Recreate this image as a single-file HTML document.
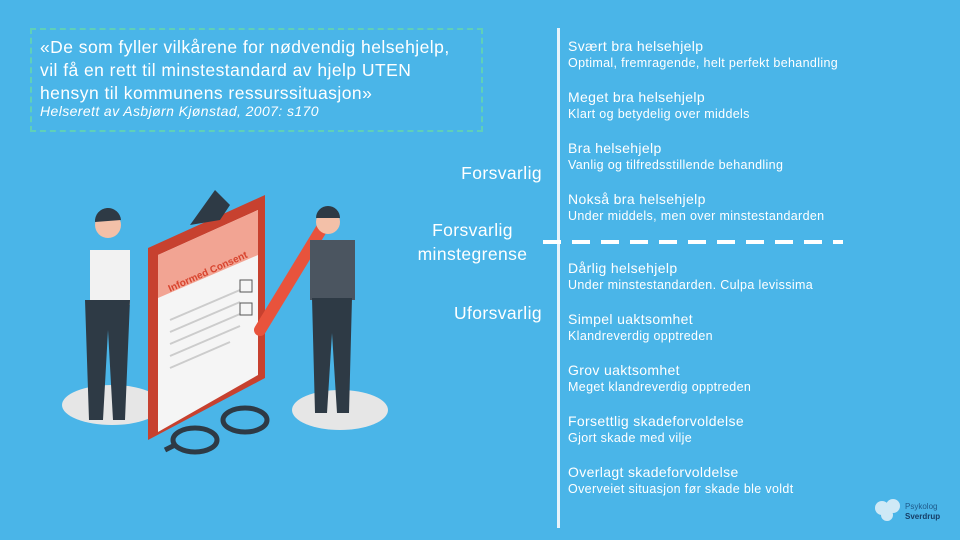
<!DOCTYPE html>
<html><head><meta charset="utf-8"><style>
html,body{margin:0;padding:0}
body{width:960px;height:540px;background:#4ab5e8;position:relative;overflow:hidden;font-family:"Liberation Sans",sans-serif;color:#fff}
.q{position:absolute;left:30px;top:28px;width:453px;height:104px;border:2px dashed #5fd0b8;box-sizing:border-box}
.qt{position:absolute;left:40px;top:36px;font-size:17.5px;letter-spacing:0.45px;line-height:23px;white-space:nowrap}
.qa{position:absolute;left:40px;top:103px;font-size:14px;letter-spacing:0.4px;font-style:italic}
.vl{position:absolute;left:557px;top:28px;width:3px;height:500px;background:#e6f3fb}
.dl{position:absolute;left:543px;top:240px;width:300px;height:4px;background:repeating-linear-gradient(90deg,#fff 0 18px,transparent 18px 29px)}
.it{position:absolute;left:568px;white-space:nowrap}
.it b{display:block;font-weight:normal;font-size:14px;letter-spacing:0.35px;line-height:17px}
.it span{display:block;font-size:12.5px;letter-spacing:0.35px;line-height:16px}
.l{position:absolute;font-size:17.5px;letter-spacing:0.4px;line-height:24px;white-space:nowrap}
</style></head><body>
<div class="q"></div>
<div class="qt">«De som fyller vilkårene for nødvendig helsehjelp,<br>vil få en rett til minstestandard av hjelp UTEN<br>hensyn til kommunens ressurssituasjon»</div>
<div class="qa">Helserett av Asbjørn Kjønstad, 2007: s170</div>
<div class="vl"></div><div class="dl"></div>
<div class="l" style="top:161px;right:418px">Forsvarlig</div>
<div class="l" style="top:218px;left:410px;width:125px;text-align:center">Forsvarlig<br>minstegrense</div>
<div class="l" style="top:301px;right:418px">Uforsvarlig</div>
<div class="it" style="top:38px"><b>Svært bra helsehjelp</b><span>Optimal, fremragende, helt perfekt behandling</span></div>
<div class="it" style="top:89px"><b>Meget bra helsehjelp</b><span>Klart og betydelig over middels</span></div>
<div class="it" style="top:140px"><b>Bra helsehjelp</b><span>Vanlig og tilfredsstillende behandling</span></div>
<div class="it" style="top:191px"><b>Nokså bra helsehjelp</b><span>Under middels, men over minstestandarden</span></div>
<div class="it" style="top:260px"><b>Dårlig helsehjelp</b><span>Under minstestandarden. Culpa levissima</span></div>
<div class="it" style="top:311px"><b>Simpel uaktsomhet</b><span>Klandreverdig opptreden</span></div>
<div class="it" style="top:362px"><b>Grov uaktsomhet</b><span>Meget klandreverdig opptreden</span></div>
<div class="it" style="top:413px"><b>Forsettlig skadeforvoldelse</b><span>Gjort skade med vilje</span></div>
<div class="it" style="top:464px"><b>Overlagt skadeforvoldelse</b><span>Overveiet situasjon før skade ble voldt</span></div>
<svg style="position:absolute;left:0;top:0" width="960" height="540">
<ellipse cx="112" cy="405" rx="50" ry="20" fill="#e6e6e6"/>
<ellipse cx="340" cy="410" rx="48" ry="20" fill="#e6e6e6"/>
<polygon points="148,440 148,248 265,195 265,378" fill="#c7412f"/>
<polygon points="158,432 158,255 258,210 258,375" fill="#f5f5f5"/>
<polygon points="158,298 158,255 258,210 258,255" fill="#f2a493"/>
<text x="170" y="292" fill="#d8442e" font-size="10" font-weight="bold" transform="rotate(-24 170 292)">Informed Consent</text>
<g stroke="#ccc" stroke-width="2"><line x1="170" y1="320" x2="240" y2="290"/><line x1="170" y1="332" x2="240" y2="302"/><line x1="170" y1="344" x2="240" y2="314"/><line x1="170" y1="356" x2="240" y2="326"/><line x1="170" y1="368" x2="230" y2="342"/></g>
<polygon points="190,225 215,190 230,205 220,220" fill="#2e3a45"/>
<rect x="240" y="280" width="12" height="12" fill="none" stroke="#555"/><rect x="240" y="303" width="12" height="12" fill="none" stroke="#555"/>
<line x1="260" y1="330" x2="330" y2="215" stroke="#e8533c" stroke-width="12" stroke-linecap="round"/>
<path d="M90 250 h40 v55 h-40z" fill="#f2f2f2"/><path d="M85 300 h45 l-5 120 h-12 l-5-90 -5 90 h-14z" fill="#2e3a45"/>
<circle cx="108" cy="225" r="13" fill="#f3c0a8"/><path d="M95 222 a13 13 0 0 1 26 -2 z" fill="#2e3a45"/>
<path d="M310 240 h45 v60 h-45z" fill="#4b5560"/><path d="M312 298 h40 l-3 115 h-12 l-5-80 -5 80 h-12z" fill="#2e3a45"/>
<circle cx="328" cy="222" r="12" fill="#f3c0a8"/><path d="M316 218 a12 12 0 0 1 24 0 z" fill="#2e3a45"/>
<g fill="none" stroke="#2e3a45" stroke-width="5"><ellipse cx="195" cy="440" rx="22" ry="12"/><ellipse cx="245" cy="420" rx="22" ry="12"/><line x1="175" y1="445" x2="165" y2="450"/></g>
<g fill="#cfe9f6"><circle cx="882" cy="508" r="7"/><circle cx="893" cy="506" r="7"/><circle cx="887" cy="515" r="6"/></g>
<text x="905" y="509" fill="#1f5a8a" font-size="8">Psykolog</text>
<text x="905" y="519" fill="#163d66" font-size="8" font-weight="bold">Sverdrup</text>
</svg>
</body></html>
